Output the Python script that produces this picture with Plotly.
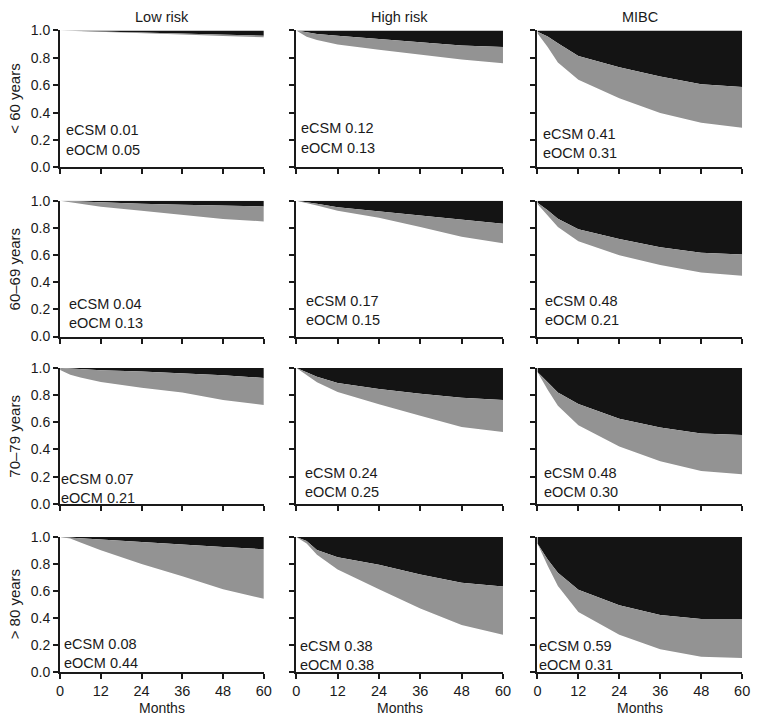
import plotly.graph_objects as go

# ---------------- data ----------------
months = [0, 3, 6, 12, 24, 36, 48, 60]
risk_groups = ["Low risk", "High risk", "MIBC"]
age_groups = ["< 60 years", "60–69 years", "70–79 years", "> 80 years"]
x_ticks = [0, 12, 24, 36, 48, 60]
y_ticks = [0.0, 0.2, 0.4, 0.6, 0.8, 1.0]

# upper edge of grey band = 1 - cumulative CSM ; lower edge = 1 - CSM - OCM
lr_lt60_csm = [1.0, 0.999, 0.997, 0.993, 0.985, 0.978, 0.970, 0.962]
lr_lt60_ocm = [1.0, 0.998, 0.995, 0.990, 0.980, 0.971, 0.960, 0.950]
hr_lt60_csm = [1.0, 0.985, 0.974, 0.962, 0.938, 0.914, 0.890, 0.879]
hr_lt60_ocm = [1.0, 0.955, 0.931, 0.898, 0.860, 0.824, 0.788, 0.760]
mi_lt60_csm = [0.990, 0.957, 0.907, 0.814, 0.731, 0.664, 0.607, 0.588]
mi_lt60_ocm = [0.980, 0.879, 0.767, 0.640, 0.505, 0.398, 0.326, 0.290]

lr_6069_csm = [1.0, 0.997, 0.993, 0.985, 0.977, 0.970, 0.963, 0.957]
lr_6069_ocm = [1.0, 0.990, 0.980, 0.955, 0.925, 0.895, 0.865, 0.847]
hr_6069_csm = [1.0, 0.990, 0.978, 0.952, 0.922, 0.893, 0.862, 0.830]
hr_6069_ocm = [1.0, 0.985, 0.965, 0.926, 0.874, 0.806, 0.734, 0.687]
mi_6069_csm = [0.985, 0.930, 0.866, 0.790, 0.718, 0.658, 0.617, 0.603]
mi_6069_ocm = [0.975, 0.890, 0.806, 0.701, 0.598, 0.526, 0.471, 0.447]

lr_7079_csm = [1.0, 0.995, 0.990, 0.983, 0.974, 0.962, 0.946, 0.926]
lr_7079_ocm = [0.985, 0.950, 0.930, 0.897, 0.854, 0.818, 0.763, 0.727]
hr_7079_csm = [1.0, 0.970, 0.935, 0.888, 0.845, 0.809, 0.780, 0.763]
hr_7079_ocm = [1.0, 0.945, 0.895, 0.823, 0.732, 0.648, 0.565, 0.529]
mi_7079_csm = [0.970, 0.894, 0.818, 0.734, 0.626, 0.561, 0.518, 0.506]
mi_7079_ocm = [0.970, 0.840, 0.722, 0.578, 0.421, 0.314, 0.242, 0.218]

lr_ge80_csm = [1.0, 0.995, 0.990, 0.983, 0.963, 0.944, 0.927, 0.910]
lr_ge80_ocm = [1.0, 0.990, 0.959, 0.903, 0.800, 0.710, 0.614, 0.542]
hr_ge80_csm = [1.0, 0.971, 0.904, 0.850, 0.795, 0.723, 0.662, 0.633]
hr_ge80_ocm = [1.0, 0.952, 0.868, 0.759, 0.614, 0.470, 0.349, 0.277]
mi_ge80_csm = [0.952, 0.834, 0.735, 0.610, 0.494, 0.422, 0.393, 0.393]
mi_ge80_ocm = [0.952, 0.788, 0.638, 0.445, 0.277, 0.168, 0.113, 0.103]

ecsm_lt60 = ["0.01", "0.12", "0.41"]
eocm_lt60 = ["0.05", "0.13", "0.31"]
ecsm_6069 = ["0.04", "0.17", "0.48"]
eocm_6069 = ["0.13", "0.15", "0.21"]
ecsm_7079 = ["0.07", "0.24", "0.48"]
eocm_7079 = ["0.21", "0.25", "0.30"]
ecsm_ge80 = ["0.08", "0.38", "0.59"]
eocm_ge80 = ["0.44", "0.38", "0.31"]

csm_rows = [[lr_lt60_csm, hr_lt60_csm, mi_lt60_csm],
            [lr_6069_csm, hr_6069_csm, mi_6069_csm],
            [lr_7079_csm, hr_7079_csm, mi_7079_csm],
            [lr_ge80_csm, hr_ge80_csm, mi_ge80_csm]]
ocm_rows = [[lr_lt60_ocm, hr_lt60_ocm, mi_lt60_ocm],
            [lr_6069_ocm, hr_6069_ocm, mi_6069_ocm],
            [lr_7079_ocm, hr_7079_ocm, mi_7079_ocm],
            [lr_ge80_ocm, hr_ge80_ocm, mi_ge80_ocm]]
ecsm_rows = [ecsm_lt60, ecsm_6069, ecsm_7079, ecsm_ge80]
eocm_rows = [eocm_lt60, eocm_6069, eocm_7079, eocm_ge80]

# ---------------- layout / style ----------------
W, H = 759, 725
FONT = "Liberation Sans, Arial, Helvetica, sans-serif"
TXT = "#1a1a1a"
BLACK = "#141414"
GREY = "#939393"

col_px = [(57, 264), (297, 507), (542, 750)]
row_px = [(23, 163), (197, 336), (368, 507), (541, 679)]
# label placement per panel: (pixel shift right of the y axis, y of eCSM line)
label_pos = [[(4, 0.27), (3, 0.285), (4, 0.245)],
             [(7, 0.24), (8, 0.265), (6, 0.265)],
             [(-1, 0.185), (7, 0.23), (5, 0.23)],
             [(2, 0.205), (2, 0.19), (0, 0.195)]]
line_gap = 0.14

fig = go.Figure()
annotations = []
layout = {}

for r in range(4):
    for c in range(3):
        k = r * 3 + c + 1
        xa = "x" if k == 1 else f"x{k}"
        ya = "y" if k == 1 else f"y{k}"
        top = [1.0] * len(months)
        fig.add_trace(go.Scatter(x=months, y=top, mode="lines", line=dict(width=0),
                                 xaxis=xa, yaxis=ya, showlegend=False, hoverinfo="skip"))
        fig.add_trace(go.Scatter(x=months, y=csm_rows[r][c], mode="lines",
                                 line=dict(width=0), fill="tonexty", fillcolor=BLACK,
                                 xaxis=xa, yaxis=ya, showlegend=False, hoverinfo="skip"))
        fig.add_trace(go.Scatter(x=months, y=ocm_rows[r][c], mode="lines",
                                 line=dict(width=0), fill="tonexty", fillcolor=GREY,
                                 xaxis=xa, yaxis=ya, showlegend=False, hoverinfo="skip"))
        x0, x1 = col_px[c]
        t, b = row_px[r]
        xkey = "xaxis" if k == 1 else f"xaxis{k}"
        ykey = "yaxis" if k == 1 else f"yaxis{k}"
        layout[xkey] = dict(domain=[x0 / W, x1 / W], range=[0, 60], anchor=ya,
                            tickvals=x_ticks, ticks="outside", ticklen=5, tickwidth=1.5,
                            tickcolor=TXT, showline=True, linecolor=TXT, linewidth=2,
                            showgrid=False, zeroline=False, showticklabels=(r == 3),
                            ticklabeloverflow="allow",
                            tickfont=dict(size=14.5, color=TXT, family=FONT), fixedrange=True)
        layout[ykey] = dict(domain=[1 - b / H, 1 - t / H], range=[0, 1], anchor=xa,
                            tickvals=y_ticks, tickformat=".1f", ticks="outside", ticklen=5,
                            tickwidth=1.5, tickcolor=TXT, showline=True, linecolor=TXT,
                            linewidth=2, showgrid=False, zeroline=False,
                            showticklabels=(c == 0), ticklabeloverflow="allow",
                            tickfont=dict(size=14, color=TXT, family=FONT), fixedrange=True)
        sx, ly = label_pos[r][c]
        annotations.append(dict(x=0, y=ly, xref=xa, yref=ya, xanchor="left", xshift=sx,
                                yanchor="middle", showarrow=False,
                                text=f"eCSM {ecsm_rows[r][c]}",
                                font=dict(size=14.5, color=TXT, family=FONT)))
        annotations.append(dict(x=0, y=ly - line_gap, xref=xa, yref=ya, xanchor="left",
                                xshift=sx, yanchor="middle", showarrow=False,
                                text=f"eOCM {eocm_rows[r][c]}",
                                font=dict(size=14.5, color=TXT, family=FONT)))

for c in range(3):
    cx = (col_px[c][0] + col_px[c][1]) / 2 / W
    annotations.append(dict(x=cx, y=1 - 9 / H, xref="paper", yref="paper",
                            xanchor="center", yanchor="middle", showarrow=False,
                            text=risk_groups[c], font=dict(size=14.5, color=TXT, family=FONT)))
    annotations.append(dict(x=cx, y=1 - 716 / H, xref="paper", yref="paper",
                            xanchor="center", yanchor="middle", showarrow=False,
                            text="Months", font=dict(size=14, color=TXT, family=FONT)))

for r in range(4):
    cy = 1 - (row_px[r][0] + row_px[r][1]) / 2 / H
    annotations.append(dict(x=11 / W, y=cy, xref="paper", yref="paper",
                            xanchor="center", yanchor="middle", showarrow=False,
                            textangle=-90, text=age_groups[r],
                            font=dict(size=15, color=TXT, family=FONT)))

fig.update_layout(width=W, height=H, margin=dict(l=0, r=0, t=0, b=0),
                  paper_bgcolor="white", plot_bgcolor="white",
                  annotations=annotations, hovermode=False, showlegend=False, **layout)

fig.write_html("out.html", config={"displayModeBar": False},
               post_script="document.body.style.margin='0';document.body.style.padding='0';"
                           "document.body.style.overflow='hidden';")
